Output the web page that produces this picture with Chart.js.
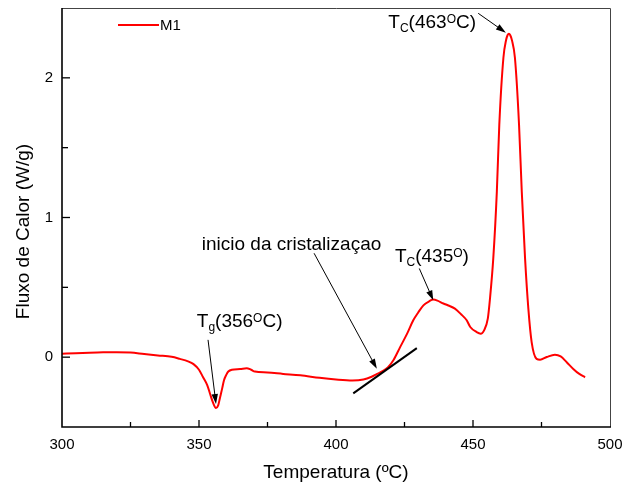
<!DOCTYPE html>
<html>
<head>
<meta charset="utf-8">
<script src="https://cdn.jsdelivr.net/npm/chart.js@4.4.1/dist/chart.umd.min.js"></script>
<style>
  body { margin: 0; background: #fff; }
  canvas { display: block; }
</style>
</head>
<body>
<canvas id="dsc-chart" width="625" height="488"></canvas>
<script>
// DSC curve, sample M1
const temps = [300, 305, 310, 315, 320, 325, 330, 335, 340, 343, 346, 348, 350, 351.5, 353, 354, 355, 356.2, 357, 357.7,
  358.5, 359.1, 360, 360.7, 362, 365, 367.4, 369, 370.4, 375, 380.7, 387, 394, 400, 406, 410, 413, 415, 417, 419,
  421, 423.4, 426, 428.2, 430, 431.9, 434, 435.5, 437, 439.2, 441, 443.4, 445.5, 447.7, 449, 451.3, 452.8, 454, 455.4, 456.2,
  457.4, 458.7, 459.6, 461.1, 462.1, 462.6, 463.1, 463.6, 464.2, 465.3, 466.8, 467.8, 469.0, 470.2, 471.4, 473.2, 474.5, 476.9, 479.9, 482,
  484.2, 486.6, 488.8, 490.9];
const heatFlow = [0.025, 0.028, 0.032, 0.035, 0.036, 0.033, 0.022, 0.012, 0.003, -0.012, -0.030, -0.050, -0.090, -0.144, -0.20, -0.26, -0.32, -0.364, -0.345, -0.287,
  -0.22, -0.167, -0.125, -0.103, -0.090, -0.085, -0.079, -0.09, -0.103, -0.11, -0.12, -0.13, -0.148, -0.16, -0.167, -0.160, -0.14, -0.12, -0.10, -0.072,
  -0.02, 0.072, 0.17, 0.264, 0.32, 0.371, 0.400, 0.412, 0.405, 0.384, 0.37, 0.348, 0.31, 0.264, 0.216, 0.18, 0.168, 0.19, 0.276, 0.42,
  0.707, 1.185, 1.665, 2.144, 2.273, 2.305, 2.316, 2.305, 2.27, 2.144, 1.665, 1.185, 0.707, 0.347, 0.108, -0.012, -0.018, 0.001, 0.017, 0.005,
  -0.036, -0.084, -0.12, -0.144];

const xLabels = [300, 350, 400, 450, 500];
const yLabels = [0, 1, 2];

// annotations, in data units
const notes = [
  { parts: [["T"], ["g", "sub"], ["(356"], ["O", "sup"], ["C)"]], x: 349.2, y: 0.215, arrow: [353.3, 0.124, 356.2, -0.335] },
  { parts: [["inicio da cristalizaçao"]], x: 351, y: 0.766, arrow: [392, 0.744, 414.9, -0.083] },
  { parts: [["T"], ["C", "sub"], ["(435"], ["O", "sup"], [")"]], x: 421.5, y: 0.682, arrow: [430.4, 0.635, 435.5, 0.407] },
  { parts: [["T"], ["C", "sub"], ["(463"], ["O", "sup"], ["C)"]], x: 419.1, y: 2.359, arrow: [451.9, 2.462, 462.0, 2.323] },
];
const tangent = [406.3, -0.259, 429.5, 0.065];

const FONT = "'Liberation Sans', Arial, sans-serif";
Chart.defaults.font.family = FONT;
Chart.defaults.color = "#000";

function arrow(ctx, x1, y1, x2, y2) {
  const a = Math.atan2(y2 - y1, x2 - x1);
  const len = 10, hw = 3.2;
  ctx.beginPath();
  ctx.moveTo(x1, y1);
  ctx.lineTo(x2 - Math.cos(a) * len * 0.8, y2 - Math.sin(a) * len * 0.8);
  ctx.stroke();
  ctx.beginPath();
  ctx.moveTo(x2, y2);
  ctx.lineTo(x2 - Math.cos(a) * len + Math.sin(a) * hw, y2 - Math.sin(a) * len - Math.cos(a) * hw);
  ctx.lineTo(x2 - Math.cos(a) * len - Math.sin(a) * hw, y2 - Math.sin(a) * len + Math.cos(a) * hw);
  ctx.closePath();
  ctx.fill();
}

const decorations = {
  id: "decorations",
  afterDraw(chart) {
    const { ctx, chartArea: area, scales } = chart;
    const xs = scales.x, ys = scales.y;
    ctx.save();

    // frame
    ctx.strokeStyle = "#444";
    ctx.lineWidth = 1;
    ctx.beginPath();
    ctx.moveTo(area.left, area.top + 0.5);
    ctx.lineTo(area.right + 0.5, area.top + 0.5);
    ctx.lineTo(area.right + 0.5, area.bottom);
    ctx.stroke();
    ctx.strokeStyle = "#000";
    ctx.lineWidth = 1.6;
    ctx.beginPath();
    ctx.moveTo(area.left, area.top);
    ctx.lineTo(area.left, area.bottom);
    ctx.lineTo(area.right + 1, area.bottom);
    ctx.stroke();

    // inward tick marks
    ctx.lineWidth = 1.3;
    xs.ticks.forEach((t) => {
      if (t.value <= xs.min || t.value >= xs.max) return;
      const px = xs.getPixelForValue(t.value);
      const len = xLabels.includes(t.value) ? 7 : 5;
      ctx.beginPath();
      ctx.moveTo(px, area.bottom);
      ctx.lineTo(px, area.bottom - len);
      ctx.stroke();
    });
    ys.ticks.forEach((t) => {
      if (t.value <= ys.min || t.value >= ys.max) return;
      const py = ys.getPixelForValue(t.value);
      const len = yLabels.includes(t.value) ? 8 : 6;
      ctx.beginPath();
      ctx.moveTo(area.left, py);
      ctx.lineTo(area.left + len, py);
      ctx.stroke();
    });

    // tangent line
    ctx.lineWidth = 2;
    ctx.beginPath();
    ctx.moveTo(xs.getPixelForValue(tangent[0]), ys.getPixelForValue(tangent[1]));
    ctx.lineTo(xs.getPixelForValue(tangent[2]), ys.getPixelForValue(tangent[3]));
    ctx.stroke();

    // labels with arrows
    ctx.fillStyle = "#000";
    ctx.textBaseline = "alphabetic";
    ctx.textAlign = "left";
    notes.forEach((n) => {
      let px = xs.getPixelForValue(n.x);
      const py = ys.getPixelForValue(n.y);
      n.parts.forEach(([txt, kind]) => {
        let dy = 0;
        if (kind === "sub") { ctx.font = "12px " + FONT; dy = 4; }
        else if (kind === "sup") { ctx.font = "12px " + FONT; dy = -5; }
        else ctx.font = "19px " + FONT;
        ctx.fillText(txt, px, py + dy);
        px += ctx.measureText(txt).width;
      });
      ctx.lineWidth = 1;
      const a = n.arrow;
      arrow(ctx, xs.getPixelForValue(a[0]), ys.getPixelForValue(a[1]), xs.getPixelForValue(a[2]), ys.getPixelForValue(a[3]));
    });

    // legend
    const ds = chart.data.datasets[0];
    ctx.strokeStyle = ds.borderColor;
    ctx.lineWidth = 2;
    ctx.beginPath();
    ctx.moveTo(118, 25);
    ctx.lineTo(159, 25);
    ctx.stroke();
    ctx.font = "15px " + FONT;
    ctx.textBaseline = "middle";
    ctx.fillText(ds.label, 160, 26);

    // y axis title
    ctx.translate(24, (area.top + area.bottom) / 2 + 14);
    ctx.rotate(-Math.PI / 2);
    ctx.textAlign = "center";
    ctx.font = "19px " + FONT;
    ctx.fillText("Fluxo de Calor (W/g)", 0, 0);
    ctx.restore();
  },
};

const ctx = document.getElementById("dsc-chart").getContext("2d");
const dscChart = new Chart(ctx, {
  type: "line",
  data: {
    datasets: [
      {
        label: "M1",
        data: temps.map((t, i) => ({ x: t, y: heatFlow[i] })),
        borderColor: "#ff0000",
        borderWidth: 2,
        pointRadius: 0,
        cubicInterpolationMode: "monotone",
      },
    ],
  },
  options: {
    responsive: false,
    animation: false,
    layout: { padding: { top: 8, right: 15, left: 0, bottom: 0 } },
    plugins: {
      legend: { display: false },
      tooltip: { enabled: false },
    },
    scales: {
      x: {
        type: "linear",
        min: 300,
        max: 500,
        grid: { display: false, drawTicks: false },
        border: { display: false },
        ticks: {
          stepSize: 25,
          autoSkip: false,
          maxRotation: 0,
          padding: 9,
          font: { size: 15 },
          callback: (v) => (xLabels.includes(v) ? String(v) : ""),
        },
        title: { display: true, text: "Temperatura (ºC)", font: { size: 19 }, padding: { top: 4, bottom: 4 } },
        afterFit: (s) => { s.height = 61; s.paddingLeft = 0; s.paddingRight = 0; },
      },
      y: {
        min: -0.5,
        max: 2.5,
        grid: { display: false, drawTicks: false },
        border: { display: false },
        ticks: {
          stepSize: 0.5,
          autoSkip: false,
          padding: 9,
          font: { size: 15 },
          callback: (v) => (yLabels.includes(v) ? String(v) : ""),
        },
        afterFit: (s) => { s.width = 62; s.paddingTop = 0; s.paddingBottom = 0; },
      },
    },
  },
  plugins: [decorations],
});
</script>
</body>
</html>
